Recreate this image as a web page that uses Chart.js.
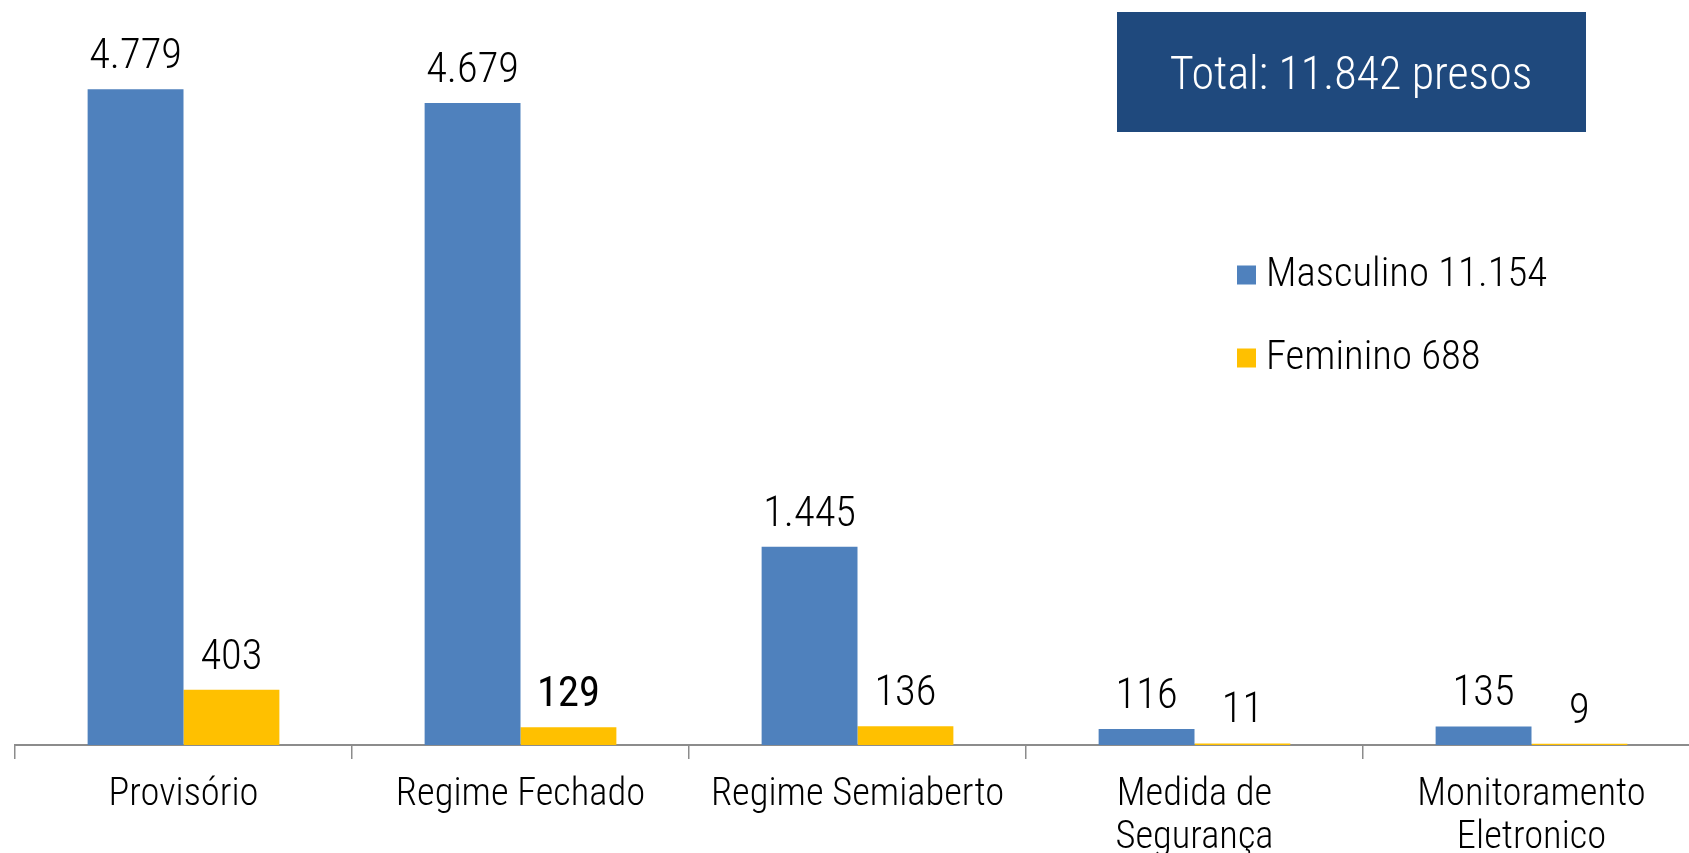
<!DOCTYPE html>
<html>
<head>
<meta charset="utf-8">
<script src="https://cdn.jsdelivr.net/npm/chart.js@4.4.1/dist/chart.umd.min.js"></script>
<style>
  html, body { margin: 0; padding: 0; background: #ffffff; overflow: hidden; }
  #wrap { width: 1689px; height: 853px; position: relative; overflow: hidden; }
  #c { display: block; }
</style>
</head>
<body>
<div id="wrap"><canvas id="c" width="1700" height="853"></canvas></div>
<script>
// ---- data ----
const categories = [
  "Provisório",
  "Regime Fechado",
  "Regime Semiaberto",
  ["Medida de", "Segurança"],
  ["Monitoramento", "Eletronico"]
];
const seriesNames = ["Masculino 11.154", "Feminino 688"];
const masculino = [4779, 4679, 1445, 116, 135];
const feminino = [403, 129, 136, 11, 9];
const totalText = "Total: 11.842 presos";

// ---- styles ----
const FONT = '"Liberation Sans Narrow", "Roboto Condensed", "DejaVu Sans Condensed", sans-serif';
const COLORS = ["#4F81BD", "#FFC000"];

function fmt(v) {
  return String(v).replace(/\B(?=(\d{3})+(?!\d))/g, ".");
}

const labelPlugin = {
  id: "valueLabels",
  afterDatasetsDraw(chart) {
    const ctx = chart.ctx;
    ctx.save();
    ctx.fillStyle = "#000000";
    ctx.textAlign = "center";
    ctx.textBaseline = "alphabetic";
    chart.data.datasets.forEach((ds, di) => {
      const meta = chart.getDatasetMeta(di);
      meta.data.forEach((el, i) => {
        const bold = (di === 1 && i === 1);
        ctx.font = (bold ? "normal 400 " : "normal 300 ") + "42.5px " + FONT;
        ctx.fillText(fmt(ds.data[i]), el.x, el.y - 21);
      });
    });
    ctx.restore();
  }
};

const legendPlugin = {
  id: "customLegend",
  afterDraw(chart) {
    const ctx = chart.ctx;
    ctx.save();
    const x0 = 1237, box = 19;
    const rows = [275, 358];
    chart.data.datasets.forEach((ds, i) => {
      const cy = rows[i];
      ctx.fillStyle = ds.backgroundColor;
      ctx.fillRect(x0, cy - box / 2, box, box);
      ctx.fillStyle = "#000000";
      ctx.font = "normal 300 40.8px " + FONT;
      ctx.textAlign = "left";
      ctx.textBaseline = "middle";
      ctx.fillText(ds.label, x0 + 29, cy + 1);
    });
    ctx.restore();
  }
};

const totalPlugin = {
  id: "totalBox",
  afterDraw(chart) {
    const ctx = chart.ctx;
    ctx.save();
    ctx.fillStyle = "#1F497D";
    ctx.fillRect(1117, 12, 469, 120);
    ctx.fillStyle = "#ffffff";
    ctx.font = "normal 300 46px " + FONT;
    ctx.textAlign = "center";
    ctx.textBaseline = "middle";
    ctx.fillText(totalText, 1351, 77);
    ctx.restore();
  }
};

new Chart(document.getElementById("c"), {
  type: "bar",
  data: {
    labels: categories,
    datasets: [
      { label: seriesNames[0], data: masculino, backgroundColor: COLORS[0] },
      { label: seriesNames[1], data: feminino, backgroundColor: COLORS[1] }
    ]
  },
  options: {
    responsive: false,
    animation: false,
    devicePixelRatio: 1,
    layout: { padding: { left: 15, right: 0, top: 0, bottom: 0 } },
    datasets: {
      bar: { barPercentage: 1.0, categoryPercentage: 0.569, borderWidth: 0 }
    },
    plugins: {
      legend: { display: false },
      tooltip: { enabled: false },
      title: { display: false }
    },
    scales: {
      x: {
        offset: true,
        grid: {
          offset: true,
          drawOnChartArea: false,
          drawTicks: true,
          tickLength: 14,
          color: "#8c8c8c",
          lineWidth: 1.5
        },
        border: { display: true, color: "#8c8c8c", width: 2 },
        ticks: {
          color: "#000000",
          font: { family: FONT, size: 38.5, weight: 300, lineHeight: 1.12 },
          padding: 15,
          maxRotation: 0,
          minRotation: 0,
          autoSkip: false
        },
        afterFit(scale) { scale.height = 108; }
      },
      y: {
        display: false,
        min: 0,
        max: 5430
      }
    }
  },
  plugins: [labelPlugin, legendPlugin, totalPlugin]
});
</script>
</body>
</html>
